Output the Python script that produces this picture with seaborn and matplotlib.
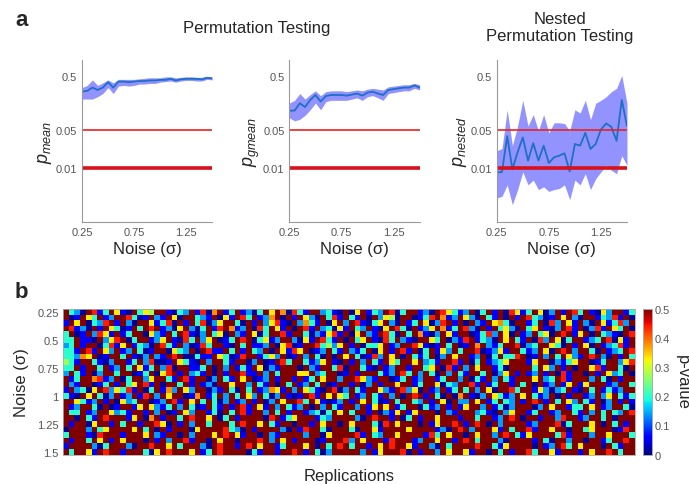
import numpy as np
import pandas as pd
import seaborn as sns
import matplotlib.pyplot as plt

# noise levels (sigma)
noise = [0.25, 0.30, 0.35, 0.40, 0.45, 0.50, 0.55, 0.60, 0.65, 0.70, 0.75, 0.80, 0.85,
         0.90, 0.95, 1.00, 1.05, 1.10, 1.15, 1.20, 1.25, 1.30, 1.35, 1.40, 1.45, 1.50]

# p_mean (median + spread)
p_mean = [0.26, 0.27, 0.31, 0.28, 0.31, 0.39, 0.31, 0.40, 0.40, 0.39, 0.40, 0.41, 0.41,
          0.42, 0.42, 0.43, 0.43, 0.45, 0.42, 0.44, 0.45, 0.45, 0.45, 0.44, 0.47, 0.46]
p_mean_hi = [0.31, 0.34, 0.43, 0.34, 0.38, 0.43, 0.38, 0.44, 0.44, 0.44, 0.44, 0.45, 0.46,
             0.47, 0.47, 0.47, 0.49, 0.49, 0.47, 0.48, 0.49, 0.49, 0.48, 0.48, 0.50, 0.49]
p_mean_lo = [0.19, 0.19, 0.19, 0.21, 0.24, 0.31, 0.24, 0.33, 0.34, 0.33, 0.34, 0.36, 0.36,
             0.37, 0.37, 0.39, 0.40, 0.41, 0.39, 0.41, 0.42, 0.42, 0.41, 0.41, 0.44, 0.43]

# p_gmean
p_gmean = [0.116, 0.116, 0.159, 0.135, 0.183, 0.226, 0.171, 0.216, 0.226, 0.226, 0.226, 0.22, 0.23,
           0.24, 0.22, 0.25, 0.26, 0.24, 0.226, 0.28, 0.29, 0.30, 0.31, 0.31, 0.34, 0.31]
p_gmean_hi = [0.16, 0.18, 0.24, 0.19, 0.23, 0.27, 0.22, 0.26, 0.27, 0.27, 0.27, 0.26, 0.27,
              0.28, 0.27, 0.29, 0.30, 0.29, 0.28, 0.32, 0.33, 0.34, 0.35, 0.35, 0.37, 0.35]
p_gmean_lo = [0.085, 0.075, 0.08, 0.095, 0.12, 0.16, 0.12, 0.17, 0.18, 0.18, 0.18, 0.18, 0.19,
              0.20, 0.18, 0.21, 0.22, 0.20, 0.18, 0.24, 0.25, 0.26, 0.27, 0.27, 0.30, 0.28]

# p_nested
p_nested = [0.0083, 0.0085, 0.039, 0.0095, 0.0196, 0.037, 0.0138, 0.029, 0.0138, 0.026, 0.0124, 0.0159, 0.017,
            0.0188, 0.0087, 0.028, 0.026, 0.045, 0.0226, 0.028, 0.052, 0.067, 0.058, 0.032, 0.183, 0.06]
p_nested_hi = [0.021, 0.023, 0.12, 0.026, 0.060, 0.18, 0.060, 0.098, 0.049, 0.098, 0.045, 0.069, 0.069,
               0.067, 0.049, 0.12, 0.105, 0.18, 0.079, 0.159, 0.18, 0.21, 0.26, 0.30, 0.52, 0.159]
p_nested_lo = [0.0028, 0.0030, 0.0049, 0.0021, 0.0040, 0.0085, 0.0049, 0.0060, 0.0040, 0.0045, 0.0037, 0.0040, 0.0042,
               0.0049, 0.0026, 0.0060, 0.0049, 0.0079, 0.0040, 0.0064, 0.0085, 0.0112, 0.0091, 0.0079, 0.017, 0.0112]

alpha_levels = [0.05, 0.01]

# heatmap: one row per noise level, 100 replications, coded colour levels
level_p = {'0': 0.01, '1': 0.06, '2': 0.14, '3': 0.20, '4': 0.27, '5': 0.33, '6': 0.38, '7': 0.44, '8': 0.5}
rows_coded = [
    "8320871385 1083548810 3281706813 8120385860 7318823108 0581328703 8812087531 2803818075 1385028187 3810528813",
    "8018538128 8730182185 0883218051 8738126808 1852083718 3180825408 8013786128 5208318081 8732018582 0881327180",
    "1858032781 8208851370 8183702588 3081825710 8263180582 8710358208 1385027818 0821856308 8138072851 8208513728",
    "8712081853 0183878120 5820381786 1280738518 0871823051 8328105873 0812586138 7208183520 8358102871 8027185380",
    "3801827518 1388052183 8710283508 2185038871 8830215718 0582187308 3861028518 8013728508 1283508781 5808321087",
    "3381108257 8038812581 0738258013 8780351288 2051873180 8358107382 1088538021 7813208583 1807285038 8123870518",
    "2381880371 5813208731 8201738810 8381128057 0188734258 1803358128 8751018380 1868213887 0238853081 8508123718",
    "3318718528 1283018805 3280871183 8183280851 7580128318 2138058187 1803815283 8870125188 3128508782 8830812387",
    "3326580188 3810282187 8003118530 1788135280 1828308085 8301728580 8313802858 8128038337 8018283852 1878208183",
    "4318831028 8138270018 5310828831 8802801873 8831258108 1828318538 8582318871 8038123588 8158802135 8801388257",
    "3381883812 8385138270 8811380828 1318502188 8082188370 8831081288 1883580718 2858813088 8838528180 8857188308",
    "2831802883 8801380578 1823180818 8711828388 8558238801 8188831287 3828308283 1883802581 8128180718 8081852380",
    "8138867128 0388258831 8718802831 8580128188 1813858828 8752188013 8128813882 8031828318 8858238718 8828308188",
    "8218801381 8358718088 3818120885 8828318083 8128380188 1802818858 8138850328 8718138818 3808128158 1588812883",
    "1823058725 3718038162 8528802183 0838126518 2853108702 8318852187 2508128138 3828508873 8815202381 0838131288",
    "3108583028 1281782858 8016813828 3852830281 0187185853 8128318280 8781830806 8102853128 5831280818 8128258313",
    "8853128180 5238801287 1858383028 1281802858 8738510128 1858301838 8328185082 2858138328 1878183852 8318028181",
    "8128830801 8815852138 2830183181 8718518283 1280828318 8281585813 8803128181 5882813028 8802858813 3858128830",
    "8338128852 3188182801 8528813083 8718828381 8812303858 3881802158 1588808218 8823108258 8138812883 1828383287",
    "8808318788 8158068188 3878858038 1888807813 5888132888 8208788180 3818858881 8838812878 0881882788 1288380888",
    "8188058818 3881887508 1828838883 8788583188 0881858808 5888307858 8808158878 1878082888 8128887038 8858083818",
    "0888283588 8858380818 8805888873 2081888820 8178830888 3088518888 5888812087 8288851838 8718858808 8358880178",
    "3888107888 1888582188 0828885878 5188082188 8828805888 8718328858 8881738588 0858828783 1588883718 8828858883",
    "8188385818 5888081828 8718808588 0888782858 1888018887 2858881788 8128858818 7838882088 8818308828 8088138878",
    "1888820388 8208878858 3888208788 1878588138 8858083878 3881858788 5188208388 8878831588 8808128738 5888083188",
    "8388518788 1888305878 8858138788 8803188188 7818302888 8828158887 0818828588 5188083818 8738851888 1858878388",
]
noise_ticks = ['0.25', '0.5', '0.75', '1', '1.25', '1.5']

rows = [r.replace(' ', '') for r in rows_coded]
assert all(len(r) == 100 for r in rows), [len(r) for r in rows]
pvals = pd.DataFrame([[level_p[c] for c in r] for r in rows], index=noise)

sns.set_style('white')
plt.rcParams['font.family'] = ['Liberation Sans', 'DejaVu Sans']
plt.rcParams['mathtext.fontset'] = 'custom'
plt.rcParams['mathtext.it'] = 'Liberation Sans:italic'
plt.rcParams['mathtext.rm'] = 'Liberation Sans'

GRAY = '#555555'
fig = plt.figure(figsize=(6.89, 4.85), dpi=100)

panels = [
    (0.119, p_mean, p_mean_lo, p_mean_hi, r'$p_{mean}$'),
    (0.420, p_gmean, p_gmean_lo, p_gmean_hi, r'$p_{gmean}$'),
    (0.721, p_nested, p_nested_lo, p_nested_hi, r'$p_{nested}$'),
]
for left, mid, lo, hi, lab in panels:
    ax = fig.add_axes([left, 0.540, 0.189, 0.334])
    ax.fill_between(noise, lo, hi, color='#8080ff', alpha=0.85, lw=0)
    sns.lineplot(x=noise, y=mid, ax=ax, color='#1f6fc8', lw=1.3)
    ax.axhline(alpha_levels[0], color='#e8231f', lw=1.2)
    ax.axhline(alpha_levels[1], color='#d8101a', lw=2.6)
    ax.set_yscale('log')
    ax.set_ylim(0.001, 1)
    ax.set_xlim(0.25, 1.5)
    ax.set_yticks([0.01, 0.05, 0.5])
    ax.set_yticklabels(['0.01', '0.05', '0.5'])
    ax.yaxis.set_minor_locator(plt.NullLocator())
    ax.set_xticks([0.25, 0.75, 1.25])
    ax.set_xticklabels(['0.25', '0.75', '1.25'])
    ax.tick_params(direction='in', length=2, labelsize=8, colors=GRAY, labelcolor=GRAY)
    for s in ['top', 'right']:
        ax.spines[s].set_visible(False)
    for s in ['left', 'bottom']:
        ax.spines[s].set_color('#999999')
        ax.spines[s].set_linewidth(0.8)
    ax.set_xlabel('Noise (σ)', fontsize=12, labelpad=3)
    ax.set_ylabel(lab, fontsize=13, labelpad=1)

fig.text(257 / 689, 1 - 29 / 485, 'Permutation Testing', ha='center', va='center', fontsize=12)
fig.text(560 / 689, 1 - 28 / 485, 'Nested\nPermutation Testing', ha='center', va='center',
         fontsize=12, linespacing=1.1)
fig.text(15 / 689, 1 - 20 / 485, 'a', fontsize=16, fontweight='bold', va='center')
fig.text(15 / 689, 1 - 293 / 485, 'b', fontsize=16, fontweight='bold', va='center')

# panel b heatmap
hax = fig.add_axes([0.0914, 0.0608, 0.830, 0.300])
cax = fig.add_axes([0.933, 0.0608, 0.0131, 0.300])
sns.heatmap(pvals, ax=hax, cbar_ax=cax, cmap='jet', vmin=0, vmax=0.5,
            xticklabels=False, yticklabels=False,
            cbar_kws={'ticks': [0, 0.1, 0.2, 0.3, 0.4, 0.5]})
hax.set_yticks([i + 0.5 for i in range(0, 26, 5)])
hax.set_yticklabels(noise_ticks, rotation=0)
hax.tick_params(axis='y', length=0, labelsize=8, labelcolor=GRAY, pad=3)
for s in hax.spines.values():
    s.set_visible(True)
    s.set_color('#aaaaaa')
    s.set_linewidth(0.6)
hax.set_xlabel('Replications', fontsize=12, labelpad=10)
hax.set_ylabel('Noise (σ)', fontsize=12, labelpad=6)

cax.tick_params(length=0, labelsize=8, labelcolor=GRAY, pad=2)
cax.set_yticklabels(['0', '0.1', '0.2', '0.3', '0.4', '0.5'])
cax.set_ylabel('p-value', fontsize=12, rotation=270, labelpad=14)
for s in cax.spines.values():
    s.set_visible(True)
    s.set_color('#aaaaaa')
    s.set_linewidth(0.6)

fig.savefig('out.png', dpi=100)
